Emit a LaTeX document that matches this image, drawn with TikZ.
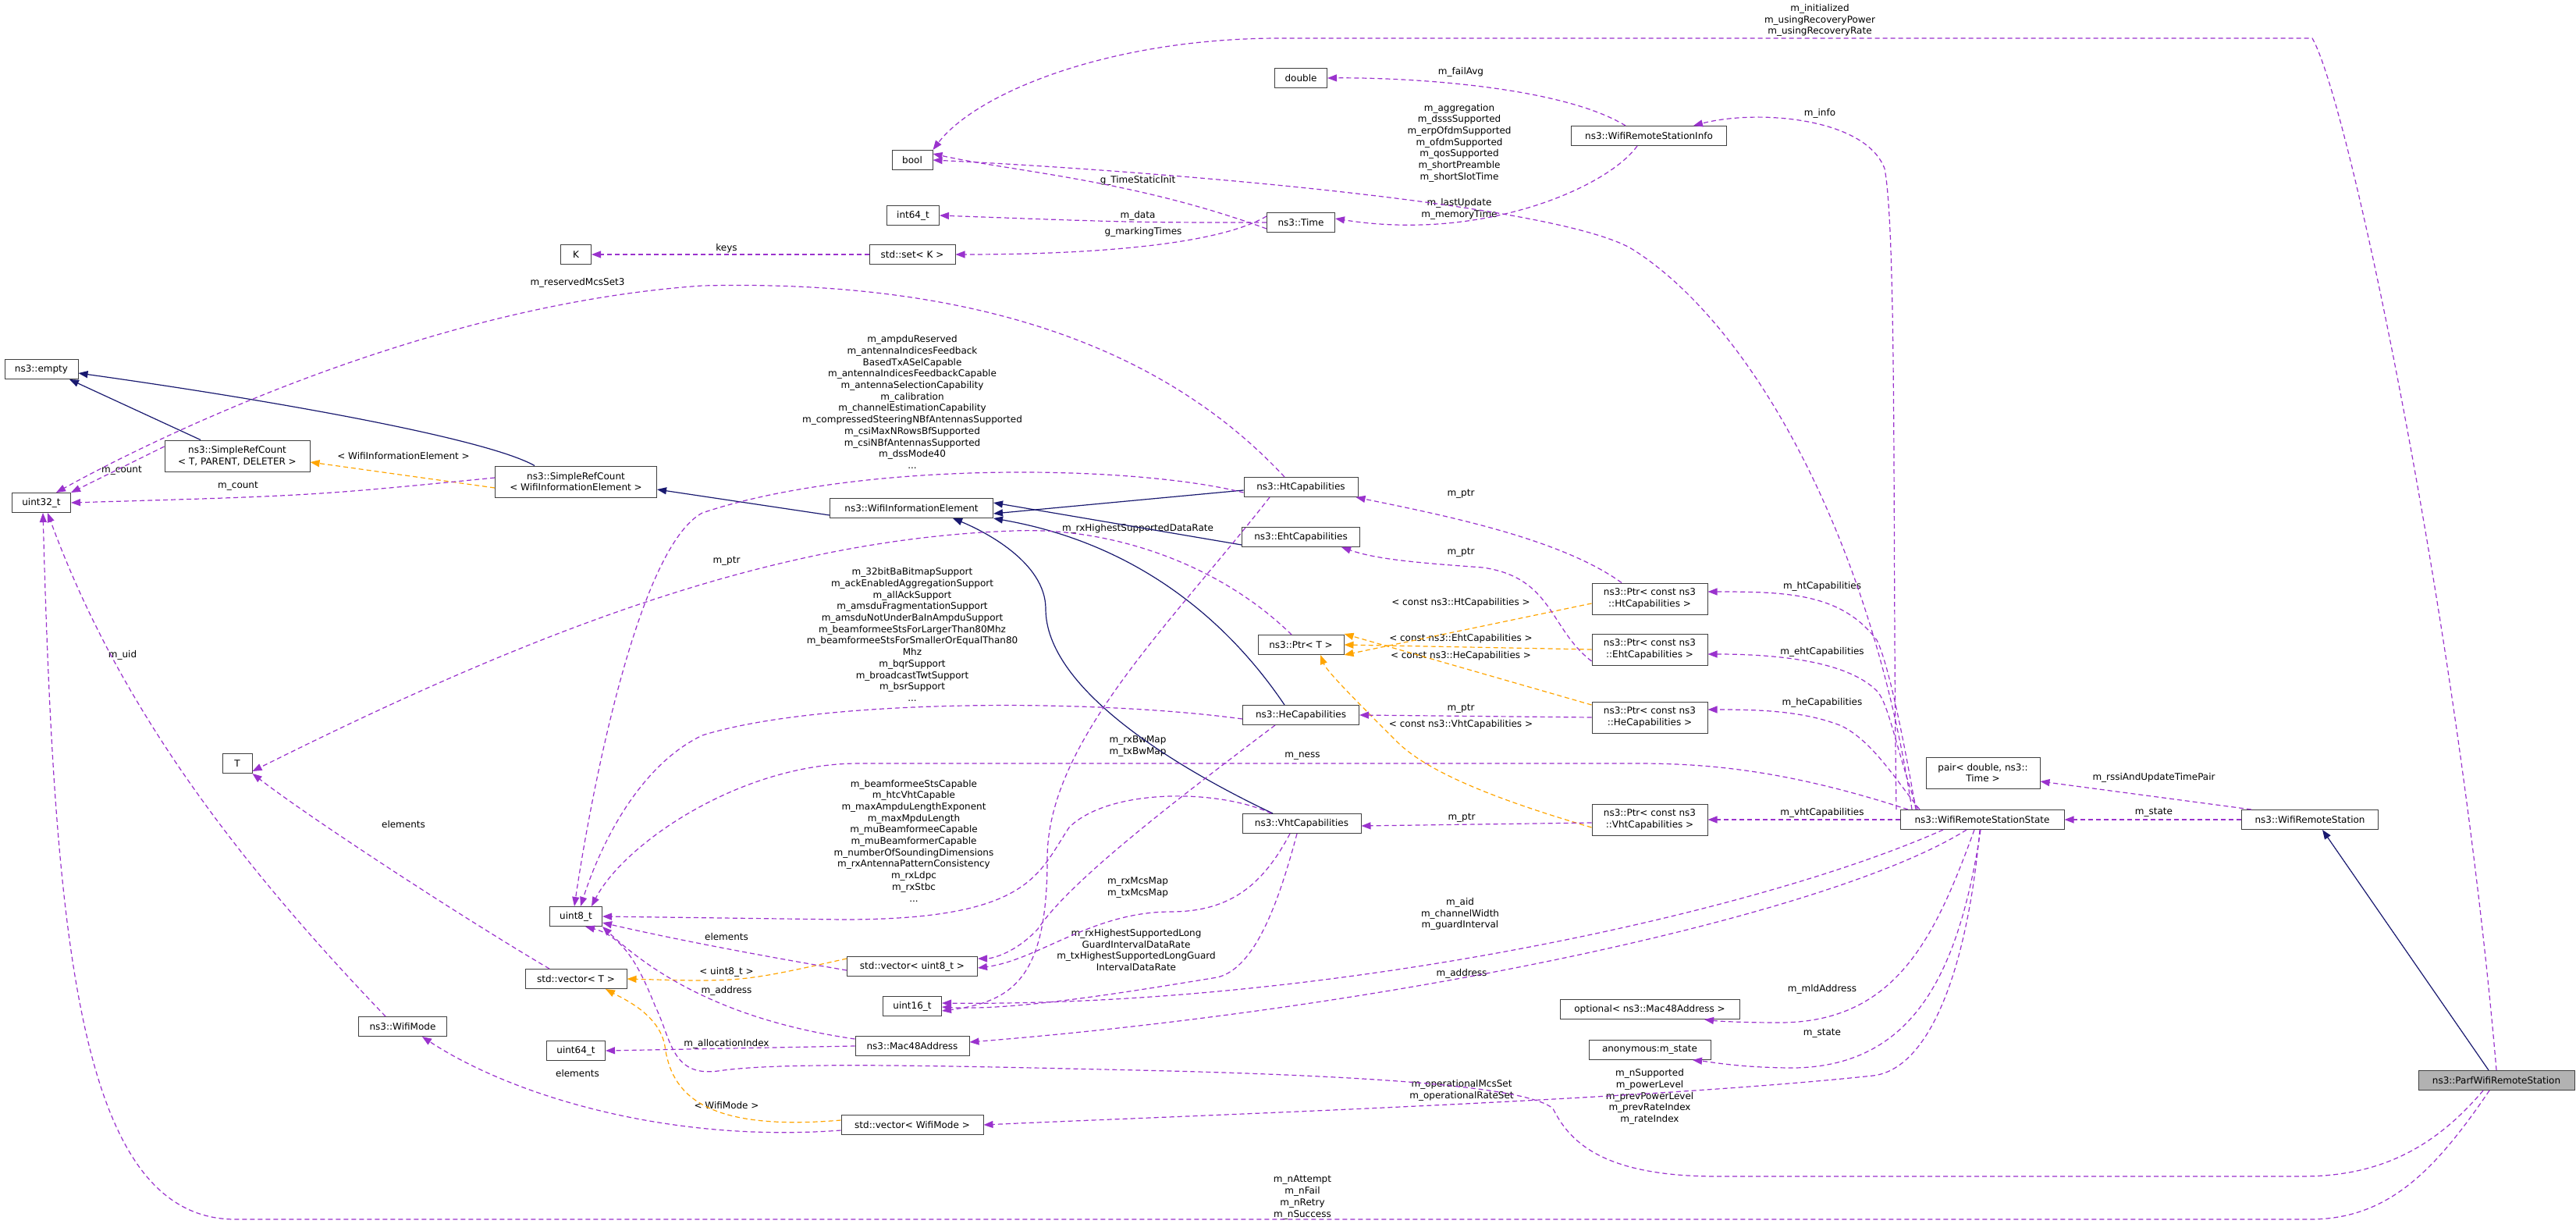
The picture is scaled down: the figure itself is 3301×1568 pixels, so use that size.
\documentclass[tikz,border=0pt]{standalone}
\usepackage{fontspec}
\setmainfont{DejaVu Sans}
\usetikzlibrary{arrows.meta}
\newcommand{\dgfont}{\fontsize{12}{14.7}\selectfont}
\definecolor{pc}{HTML}{9A32CD}
\definecolor{oc}{HTML}{FFA500}
\definecolor{nc}{HTML}{191970}
\tikzset{
 box/.style={draw=black!75, line width=1pt, fill=white, inner sep=0pt, minimum height=25pt, font=\dgfont, align=center},
 box2/.style={box, minimum height=40pt},
 lbl/.style={font=\dgfont, align=center, inner sep=0pt},
 mem/.style={draw=pc, line width=1.2pt, dash pattern=on 6pt off 4pt, -{Triangle[length=12pt,width=9pt]}},
 tpl/.style={draw=oc, line width=1.2pt, dash pattern=on 6pt off 4pt, -{Triangle[length=12pt,width=9pt]}},
 inh/.style={draw=nc, line width=1.2pt, -{Triangle[length=12pt,width=9pt]}},
}
\begin{document}
\begin{tikzpicture}[x=1pt,y=-1pt]
\useasboundingbox[fill=white] (0,0) rectangle (3301,1568);
% nodes
\node[box, minimum width=67] (double) at (1667,100) {double};
\node[box, minimum width=199] (info) at (2113,174) {ns3::WifiRemoteStationInfo};
\node[box, minimum width=52] (bool) at (1169,205) {bool};
\node[box, minimum width=67] (int64) at (1170,276) {int64\_t};
\node[box, minimum width=87] (time) at (1667,285) {ns3::Time};
\node[box, minimum width=110] (set) at (1169,326) {std::set\textless{} K \textgreater{}};
\node[box, minimum width=39] (K) at (738,326) {K};
\node[box, minimum width=94] (empty) at (53,473) {ns3::empty};
\node[box2, minimum width=186] (src1) at (304,584) {ns3::SimpleRefCount\\\textless{} T, PARENT, DELETER \textgreater{}};
\node[box2, minimum width=207] (src2) at (738,617) {ns3::SimpleRefCount\\\textless{} WifiInformationElement \textgreater{}};
\node[box, minimum width=75] (u32) at (53,644) {uint32\_t};
\node[box, minimum width=209] (wie) at (1168,651) {ns3::WifiInformationElement};
\node[box, minimum width=146] (ht) at (1667,624) {ns3::HtCapabilities};
\node[box, minimum width=151] (eht) at (1667,688) {ns3::EhtCapabilities};
\node[box, minimum width=110] (ptrT) at (1667,826) {ns3::Ptr\textless{} T \textgreater{}};
\node[box, minimum width=149] (he) at (1667,916) {ns3::HeCapabilities};
\node[box, minimum width=152] (vht) at (1668,1055) {ns3::VhtCapabilities};
\node[box, minimum width=38] (T) at (304,978) {T};
\node[box, minimum width=67] (u8) at (738,1174) {uint8\_t};
\node[box, minimum width=130] (vecT) at (738,1254) {std::vector\textless{} T \textgreater{}};
\node[box, minimum width=167] (vec8) at (1169,1238) {std::vector\textless{} uint8\_t \textgreater{}};
\node[box, minimum width=75] (u16) at (1169,1289) {uint16\_t};
\node[box, minimum width=146] (mac) at (1169,1340) {ns3::Mac48Address};
\node[box, minimum width=75] (u64) at (738,1346) {uint64\_t};
\node[box, minimum width=113] (wm) at (516,1315) {ns3::WifiMode};
\node[box, minimum width=182] (vecwm) at (1169,1441) {std::vector\textless{} WifiMode \textgreater{}};
\node[box2, minimum width=148] (pht) at (2114,767) {ns3::Ptr\textless{} const ns3\\::HtCapabilities \textgreater{}};
\node[box2, minimum width=148] (peht) at (2114,832) {ns3::Ptr\textless{} const ns3\\::EhtCapabilities \textgreater{}};
\node[box2, minimum width=148] (phe) at (2114,919) {ns3::Ptr\textless{} const ns3\\::HeCapabilities \textgreater{}};
\node[box2, minimum width=148] (pvht) at (2114,1050) {ns3::Ptr\textless{} const ns3\\::VhtCapabilities \textgreater{}};
\node[box2, minimum width=146] (pair) at (2541,990) {pair\textless{} double, ns3::\\Time \textgreater{}};
\node[box, minimum width=210] (state) at (2540,1050) {ns3::WifiRemoteStationState};
\node[box, minimum width=175] (wrs) at (2960,1050) {ns3::WifiRemoteStation};
\node[box, minimum width=230] (opt) at (2114,1293) {optional\textless{} ns3::Mac48Address \textgreater{}};
\node[box, minimum width=156] (anon) at (2114,1345) {anonymous:m\_state};
\node[box, minimum width=200, fill=black!30] (parf) at (3199,1384) {ns3::ParfWifiRemoteStation};
% labels
\node[lbl] (l1) at (2332,26) {m\_initialized\\m\_usingRecoveryPower\\m\_usingRecoveryRate};
\node[lbl] (l2) at (1872,92) {m\_failAvg};
\node[lbl] (l3) at (1870,183) {m\_aggregation\\m\_dsssSupported\\m\_erpOfdmSupported\\m\_ofdmSupported\\m\_qosSupported\\m\_shortPreamble\\m\_shortSlotTime};
\node[lbl] (l4) at (1458,231) {g\_TimeStaticInit};
\node[lbl] (l5) at (1458,276) {m\_data};
\node[lbl] (l6) at (1465,297) {g\_markingTimes};
\node[lbl] (l7) at (931,318) {keys};
\node[lbl] (l8) at (2332,145) {m\_info};
\node[lbl] (l9) at (1870,268) {m\_lastUpdate\\m\_memoryTime};
\node[lbl] (l10) at (740,362) {m\_reservedMcsSet3};
\node[lbl] (l11) at (156,603) {m\_count};
\node[lbl] (l12) at (305,623) {m\_count};
\node[lbl] (l13) at (517,584) {\textless{} WifiInformationElement \textgreater{}};
\node[lbl] (l14) at (1169,515) {m\_ampduReserved\\m\_antennaIndicesFeedback\\BasedTxASelCapable\\m\_antennaIndicesFeedbackCapable\\m\_antennaSelectionCapability\\m\_calibration\\m\_channelEstimationCapability\\m\_compressedSteeringNBfAntennasSupported\\m\_csiMaxNRowsBfSupported\\m\_csiNBfAntennasSupported\\m\_dssMode40\\...};
\node[lbl] (l15) at (1458,677) {m\_rxHighestSupportedDataRate};
\node[lbl] (l16) at (931,719) {m\_ptr};
\node[lbl] (l17) at (1169,813) {m\_32bitBaBitmapSupport\\m\_ackEnabledAggregationSupport\\m\_allAckSupport\\m\_amsduFragmentationSupport\\m\_amsduNotUnderBaInAmpduSupport\\m\_beamformeeStsForLargerThan80Mhz\\m\_beamformeeStsForSmallerOrEqualThan80\\Mhz\\m\_bqrSupport\\m\_broadcastTwtSupport\\m\_bsrSupport\\...};
\node[lbl] (l18) at (1458,956) {m\_rxBwMap\\m\_txBwMap};
\node[lbl] (l19) at (1669,969) {m\_ness};
\node[lbl] (l20) at (1872,633) {m\_ptr};
\node[lbl] (l21) at (1872,708) {m\_ptr};
\node[lbl] (l22) at (1872,772) {\textless{} const ns3::HtCapabilities \textgreater{}};
\node[lbl] (l23) at (1872,818) {\textless{} const ns3::EhtCapabilities \textgreater{}};
\node[lbl] (l24) at (1872,840) {\textless{} const ns3::HeCapabilities \textgreater{}};
\node[lbl] (l25) at (1872,908) {m\_ptr};
\node[lbl] (l26) at (1872,928) {\textless{} const ns3::VhtCapabilities \textgreater{}};
\node[lbl] (l27) at (1171,1077) {m\_beamformeeStsCapable\\m\_htcVhtCapable\\m\_maxAmpduLengthExponent\\m\_maxMpduLength\\m\_muBeamformeeCapable\\m\_muBeamformerCapable\\m\_numberOfSoundingDimensions\\m\_rxAntennaPatternConsistency\\m\_rxLdpc\\m\_rxStbc\\...};
\node[lbl] (l28) at (1873,1048) {m\_ptr};
\node[lbl] (l29) at (1458,1137) {m\_rxMcsMap\\m\_txMcsMap};
\node[lbl] (l30) at (1456,1217) {m\_rxHighestSupportedLong\\GuardIntervalDataRate\\m\_txHighestSupportedLongGuard\\IntervalDataRate};
\node[lbl] (l31) at (1871,1171) {m\_aid\\m\_channelWidth\\m\_guardInterval};
\node[lbl] (l32) at (931,1200) {elements};
\node[lbl] (l33) at (931,1245) {\textless{} uint8\_t \textgreater{}};
\node[lbl] (l34) at (931,1269) {m\_address};
\node[lbl] (l35) at (1873,1247) {m\_address};
\node[lbl] (l36) at (931,1337) {m\_allocationIndex};
\node[lbl] (l37) at (931,1416) {\textless{} WifiMode \textgreater{}};
\node[lbl] (l38) at (1873,1397) {m\_operationalMcsSet\\m\_operationalRateSet};
\node[lbl] (l39) at (1669,1534) {m\_nAttempt\\m\_nFail\\m\_nRetry\\m\_nSuccess};
\node[lbl] (l40) at (2335,751) {m\_htCapabilities};
\node[lbl] (l41) at (2335,835) {m\_ehtCapabilities};
\node[lbl] (l42) at (2335,900) {m\_heCapabilities};
\node[lbl] (l43) at (2335,1041) {m\_vhtCapabilities};
\node[lbl] (l44) at (2760,996) {m\_rssiAndUpdateTimePair};
\node[lbl] (l45) at (2760,1041) {m\_state};
\node[lbl] (l46) at (2335,1267) {m\_mldAddress};
\node[lbl] (l47) at (2335,1324) {m\_state};
\node[lbl] (l48) at (2114,1405) {m\_nSupported\\m\_powerLevel\\m\_prevPowerLevel\\m\_prevRateIndex\\m\_rateIndex};
\node[lbl] (l49) at (157,839) {m\_uid};
\node[lbl] (l50) at (517,1056) {elements};
\node[lbl] (l51) at (740,1375) {elements};
% inheritance
\draw[inh] ([xshift=-47pt]src1.north) -- ([xshift=36pt]empty.south);
\draw[inh] ([xshift=-53pt]src2.north) .. controls (620,560) and (330,510) .. ([yshift=-5pt]empty.east);
\draw[inh] ([yshift=-9pt]wie.west) -- ([yshift=-10pt]src2.east);
\draw[inh] ([yshift=-4pt]ht.west) -- ([yshift=-7pt]wie.east);
\draw[inh] ([yshift=-10pt]eht.west) -- ([yshift=7pt]wie.east);
\draw[inh] ([xshift=-21pt]he.north) .. controls (1590,820) and (1480,700) .. (wie.south east);
\draw[inh] ([xshift=-37pt]vht.north) .. controls (1500,980) and (1340,880) .. (1340,780) .. controls (1340,720) and (1260,680) .. ([xshift=53pt]wie.south);
\draw[inh] ([xshift=-10pt]parf.north) -- ([xshift=16pt]wrs.south);
% templates
\draw[tpl] ([yshift=-8pt]src2.west) -- ([yshift=-8pt]src1.east);
\draw[tpl] ([yshift=-6pt]pht.west) -- ([yshift=-13pt]ptrT.east);
\draw[tpl] (peht.west) -- (ptrT.east);
\draw[tpl] ([yshift=16pt]phe.west) -- ([yshift=14pt]ptrT.east);
\draw[tpl] ([yshift=-10pt]pvht.west) .. controls (1920,1025) and (1830,990) .. (1790,950) .. controls (1740,900) and (1700,860) .. ([xshift=25pt]ptrT.south);
\draw[tpl] ([yshift=10pt]vec8.west) .. controls (950,1258) .. (vecT.east);
\draw[tpl] ([yshift=6pt]vecwm.west) .. controls (900,1450) and (860,1400) .. (852,1340) .. controls (845,1300) and (800,1280) .. ([xshift=38pt]vecT.south);
% members
\draw[mem] (parf.north) .. controls (3150,800) and (3010,130) .. (2963,49) -- (1640,49) .. controls (1420,49) and (1250,120) .. (bool.north east);
\draw[mem] ([xshift=-30pt]info.north) .. controls (2000,110) and (1800,99) .. (double.east);
\draw[mem] ([xshift=-90pt]state.north) .. controls (2400,700) and (2250,420) .. (2093,320) .. controls (2000,262) and (1500,220) .. (bool.east);
\draw[mem] ([yshift=-8pt]time.west) .. controls (1450,230) and (1300,220) .. ([yshift=8pt]bool.east);
\draw[mem] (time.west) .. controls (1450,285) .. (int64.east);
\draw[mem] ([yshift=8pt]time.west) .. controls (1550,320) and (1350,326) .. (set.east);
\draw[mem] (set.west) -- (K.east);
\draw[mem] ([xshift=-15pt]info.south) .. controls (2060,240) and (1900,310) .. ([yshift=5pt]time.east);
\draw[mem] ([xshift=-110pt]state.north) .. controls (2425,700) and (2431,300) .. (2415,216) .. controls (2390,150) and (2250,140) .. ([xshift=57pt]info.north);
\draw[mem] ([xshift=-21pt]ht.north) .. controls (1450,400) and (1150,360) .. (900,366) .. controls (550,390) and (200,560) .. ([xshift=19pt]u32.north);
\draw[mem] ([yshift=12pt]src1.west) -- (u32.north east);
\draw[mem] ([yshift=5pt]src2.west) .. controls (400,635) .. (u32.east);
\draw[mem] ([yshift=-7pt]ht.west) .. controls (1450,595) and (1100,590) .. (900,657) .. controls (820,700) and (760,1000) .. ([xshift=-2pt]u8.north);
\draw[mem] ([yshift=-5pt]he.west) .. controls (1400,895) and (1050,895) .. (900,942) .. controls (820,980) and (770,1080) .. ([xshift=6pt]u8.north);
\draw[mem] ([xshift=-40pt]ht.south) .. controls (1500,800) and (1342,950) .. (1342,1100) .. controls (1342,1250) and (1300,1283) .. ([yshift=-6pt]u16.east);
\draw[mem] ([xshift=-12pt]ptrT.north) .. controls (1560,720) and (1420,675) .. (1300,680) .. controls (1000,690) and (700,800) .. ([yshift=-10pt]T.east);
\draw[mem] ([xshift=-36pt]pht.north) .. controls (2000,690) and (1850,660) .. ([xshift=-3pt]ht.south east);
\draw[mem] ([yshift=-15pt]peht.west) .. controls (1985,805) and (1990,740) .. (1900,727) .. controls (1800,720) and (1760,715) .. ([xshift=52pt]eht.south);
\draw[mem] (phe.west) -- (he.east);
\draw[mem] ([yshift=-4pt]pvht.west) -- ([yshift=-3pt]vht.east);
\draw[mem] ([xshift=-85pt]state.north) .. controls (2440,950) and (2420,850) .. (2405,820) .. controls (2360,760) and (2290,758) .. ([yshift=9pt]pht.east);
\draw[mem] ([xshift=-83pt]state.north) .. controls (2430,960) and (2420,900) .. (2405,885) .. controls (2370,850) and (2290,838) .. ([yshift=-6pt]peht.east);
\draw[mem] ([xshift=-80pt]state.north) .. controls (2430,1000) and (2400,950) .. (2360,930) .. controls (2310,910) and (2250,909) .. ([yshift=10pt]phe.east);
\draw[mem] (state.west) -- (pvht.east);
\draw[mem] ([xshift=-95pt]state.north) .. controls (2300,990) and (2200,978) .. (2100,978) -- (1100,978) .. controls (950,978) and (800,1080) .. ([xshift=20pt]u8.north);
\draw[mem] ([xshift=-39pt]vht.north) .. controls (1560,1010) and (1420,1010) .. (1370,1060) .. controls (1330,1120) and (1320,1178) .. (1080,1178) -- (u8.east);
\draw[mem] ([xshift=-33pt]he.south) .. controls (1500,1030) and (1370,1130) .. (1330,1190) .. controls (1300,1222) and (1270,1228) .. ([yshift=10pt]vec8.east);
\draw[mem] ([xshift=-15pt]vht.south) .. controls (1620,1130) and (1580,1168) .. (1500,1168) .. controls (1400,1168) and (1330,1230) .. ([yshift=-2pt]vec8.east);
\draw[mem] ([xshift=-6pt]vht.south) .. controls (1640,1150) and (1610,1240) .. (1560,1252) .. controls (1450,1270) and (1300,1295) .. ([yshift=-1pt]u16.east);
\draw[mem] ([xshift=-50pt]state.south) .. controls (2250,1170) and (1700,1290) .. ([yshift=4pt]u16.east);
\draw[mem] ([xshift=-20pt]state.south) .. controls (2350,1170) and (1800,1290) .. ([yshift=5pt]mac.east);
\draw[mem] ([yshift=9pt]mac.west) .. controls (950,1310) and (850,1260) .. (u8.south east);
\draw[mem] ([yshift=-5pt]vec8.west) .. controls (950,1220) and (850,1200) .. ([yshift=-8pt]u8.east);
\draw[mem] ([xshift=-34pt]vecT.north) .. controls (600,1180) and (400,1050) .. (T.south east);
\draw[mem] (mac.west) -- (u64.east);
\draw[mem] ([yshift=-7pt]vecwm.west) .. controls (850,1465) and (650,1400) .. ([xshift=25pt]wm.south);
\draw[mem] ([xshift=-22pt]wm.north) .. controls (300,1100) and (150,900) .. ([xshift=8pt]u32.south);
\draw[mem] ([xshift=-9pt]parf.south) .. controls (3120,1500) and (3060,1562) .. (2960,1562) -- (300,1562) .. controls (100,1560) and (70,1200) .. ([xshift=2pt]u32.south);
\draw[mem] ([xshift=-17pt]parf.south) .. controls (3120,1470) and (3050,1507) .. (2950,1507) -- (2200,1507) .. controls (2050,1507) and (2010,1460) .. (1990,1420) .. controls (1960,1395) and (1800,1380) .. (1500,1372) .. controls (1200,1365) and (1000,1360) .. (920,1372) .. controls (860,1380) and (860,1330) .. (840,1290) .. controls (820,1240) and (800,1200) .. ([xshift=12pt]u8.south);
\draw[mem] ([xshift=-3pt]state.south) .. controls (2520,1250) and (2470,1370) .. (2400,1378) .. controls (2100,1410) and (1500,1430) .. (vecwm.east);
\draw[mem] ([xshift=-10pt]state.south) .. controls (2480,1200) and (2430,1310) .. (2280,1310) .. controls (2230,1310) and (2200,1308) .. ([xshift=70pt]opt.south);
\draw[mem] ([xshift=-2pt]state.south) .. controls (2510,1250) and (2450,1365) .. (2300,1368) .. controls (2230,1368) and (2190,1360) .. ([xshift=55pt]anon.south);
\draw[mem] (wrs.west) -- (state.east);
\draw[mem] ([xshift=-75pt]wrs.north) -- ([yshift=-11pt]pair.east);
\end{tikzpicture}
\end{document}
